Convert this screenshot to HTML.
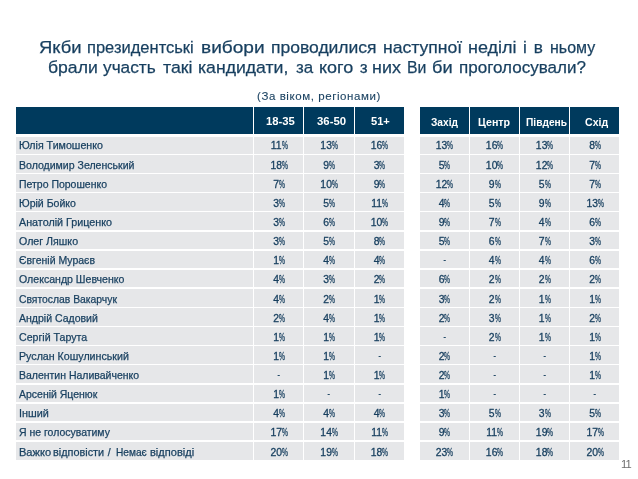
<!DOCTYPE html>
<html><head><meta charset="utf-8"><style>
html,body{margin:0;padding:0;}
body{width:638px;height:479px;background:#fff;position:relative;overflow:hidden;font-family:"Liberation Sans",sans-serif;}
div,span{position:absolute;white-space:nowrap;transform-origin:0 0;}
.t{color:#173f5f;-webkit-text-stroke:0.25px #173f5f;font-size:17.2px;line-height:20px;}
.s{color:#173f5f;-webkit-text-stroke:0.1px #173f5f;font-size:11.2px;line-height:13px;}
.h{background:#003a5d;top:106.9px;height:26.80px;}
.ht{color:#fff;font-weight:bold;font-size:11px;line-height:14px;}
.c{background:#e6e7e9;height:17.65px;}
.n{color:#173f5f;font-size:10.4px;line-height:14px;-webkit-text-stroke:0.25px #173f5f;}
.v{color:#173f5f;font-size:10.4px;line-height:14px;width:60px;text-align:center;-webkit-text-stroke:0.3px #173f5f;transform:scaleY(1.06);transform-origin:50% 76%;}
.v i{position:static;display:inline-block;font-style:normal;transform:scaleX(0.64);transform-origin:0 50%;width:5.92px;text-align:left;}
.v b{position:relative;font-weight:normal;display:inline-block;transform:scaleX(0.7);transform-origin:50% 50%;top:-0.8px;}
.p{color:#6e6e6e;font-size:11.2px;line-height:14px;letter-spacing:-1px;}
</style></head><body>
<div class="h" style="left:16px;width:237.00px"></div>
<div class="h" style="left:254px;width:49.00px"></div>
<div class="h" style="left:304px;width:50.00px"></div>
<div class="h" style="left:355px;width:48.60px"></div>
<div class="h" style="left:419.8px;width:49.20px"></div>
<div class="h" style="left:470px;width:49.00px"></div>
<div class="h" style="left:520px;width:49.00px"></div>
<div class="h" style="left:570px;width:48.80px"></div>
<div class="c" style="left:16px;top:135.90px;width:237.00px"></div>
<div class="c" style="left:254px;top:135.90px;width:49.00px"></div>
<div class="c" style="left:304px;top:135.90px;width:50.00px"></div>
<div class="c" style="left:355px;top:135.90px;width:48.60px"></div>
<div class="c" style="left:419.8px;top:135.90px;width:49.20px"></div>
<div class="c" style="left:470px;top:135.90px;width:49.00px"></div>
<div class="c" style="left:520px;top:135.90px;width:49.00px"></div>
<div class="c" style="left:570px;top:135.90px;width:48.80px"></div>
<div class="c" style="left:16px;top:155.03px;width:237.00px"></div>
<div class="c" style="left:254px;top:155.03px;width:49.00px"></div>
<div class="c" style="left:304px;top:155.03px;width:50.00px"></div>
<div class="c" style="left:355px;top:155.03px;width:48.60px"></div>
<div class="c" style="left:419.8px;top:155.03px;width:49.20px"></div>
<div class="c" style="left:470px;top:155.03px;width:49.00px"></div>
<div class="c" style="left:520px;top:155.03px;width:49.00px"></div>
<div class="c" style="left:570px;top:155.03px;width:48.80px"></div>
<div class="c" style="left:16px;top:174.15px;width:237.00px"></div>
<div class="c" style="left:254px;top:174.15px;width:49.00px"></div>
<div class="c" style="left:304px;top:174.15px;width:50.00px"></div>
<div class="c" style="left:355px;top:174.15px;width:48.60px"></div>
<div class="c" style="left:419.8px;top:174.15px;width:49.20px"></div>
<div class="c" style="left:470px;top:174.15px;width:49.00px"></div>
<div class="c" style="left:520px;top:174.15px;width:49.00px"></div>
<div class="c" style="left:570px;top:174.15px;width:48.80px"></div>
<div class="c" style="left:16px;top:193.28px;width:237.00px"></div>
<div class="c" style="left:254px;top:193.28px;width:49.00px"></div>
<div class="c" style="left:304px;top:193.28px;width:50.00px"></div>
<div class="c" style="left:355px;top:193.28px;width:48.60px"></div>
<div class="c" style="left:419.8px;top:193.28px;width:49.20px"></div>
<div class="c" style="left:470px;top:193.28px;width:49.00px"></div>
<div class="c" style="left:520px;top:193.28px;width:49.00px"></div>
<div class="c" style="left:570px;top:193.28px;width:48.80px"></div>
<div class="c" style="left:16px;top:212.40px;width:237.00px"></div>
<div class="c" style="left:254px;top:212.40px;width:49.00px"></div>
<div class="c" style="left:304px;top:212.40px;width:50.00px"></div>
<div class="c" style="left:355px;top:212.40px;width:48.60px"></div>
<div class="c" style="left:419.8px;top:212.40px;width:49.20px"></div>
<div class="c" style="left:470px;top:212.40px;width:49.00px"></div>
<div class="c" style="left:520px;top:212.40px;width:49.00px"></div>
<div class="c" style="left:570px;top:212.40px;width:48.80px"></div>
<div class="c" style="left:16px;top:231.53px;width:237.00px"></div>
<div class="c" style="left:254px;top:231.53px;width:49.00px"></div>
<div class="c" style="left:304px;top:231.53px;width:50.00px"></div>
<div class="c" style="left:355px;top:231.53px;width:48.60px"></div>
<div class="c" style="left:419.8px;top:231.53px;width:49.20px"></div>
<div class="c" style="left:470px;top:231.53px;width:49.00px"></div>
<div class="c" style="left:520px;top:231.53px;width:49.00px"></div>
<div class="c" style="left:570px;top:231.53px;width:48.80px"></div>
<div class="c" style="left:16px;top:250.65px;width:237.00px"></div>
<div class="c" style="left:254px;top:250.65px;width:49.00px"></div>
<div class="c" style="left:304px;top:250.65px;width:50.00px"></div>
<div class="c" style="left:355px;top:250.65px;width:48.60px"></div>
<div class="c" style="left:419.8px;top:250.65px;width:49.20px"></div>
<div class="c" style="left:470px;top:250.65px;width:49.00px"></div>
<div class="c" style="left:520px;top:250.65px;width:49.00px"></div>
<div class="c" style="left:570px;top:250.65px;width:48.80px"></div>
<div class="c" style="left:16px;top:269.77px;width:237.00px"></div>
<div class="c" style="left:254px;top:269.77px;width:49.00px"></div>
<div class="c" style="left:304px;top:269.77px;width:50.00px"></div>
<div class="c" style="left:355px;top:269.77px;width:48.60px"></div>
<div class="c" style="left:419.8px;top:269.77px;width:49.20px"></div>
<div class="c" style="left:470px;top:269.77px;width:49.00px"></div>
<div class="c" style="left:520px;top:269.77px;width:49.00px"></div>
<div class="c" style="left:570px;top:269.77px;width:48.80px"></div>
<div class="c" style="left:16px;top:288.90px;width:237.00px"></div>
<div class="c" style="left:254px;top:288.90px;width:49.00px"></div>
<div class="c" style="left:304px;top:288.90px;width:50.00px"></div>
<div class="c" style="left:355px;top:288.90px;width:48.60px"></div>
<div class="c" style="left:419.8px;top:288.90px;width:49.20px"></div>
<div class="c" style="left:470px;top:288.90px;width:49.00px"></div>
<div class="c" style="left:520px;top:288.90px;width:49.00px"></div>
<div class="c" style="left:570px;top:288.90px;width:48.80px"></div>
<div class="c" style="left:16px;top:308.02px;width:237.00px"></div>
<div class="c" style="left:254px;top:308.02px;width:49.00px"></div>
<div class="c" style="left:304px;top:308.02px;width:50.00px"></div>
<div class="c" style="left:355px;top:308.02px;width:48.60px"></div>
<div class="c" style="left:419.8px;top:308.02px;width:49.20px"></div>
<div class="c" style="left:470px;top:308.02px;width:49.00px"></div>
<div class="c" style="left:520px;top:308.02px;width:49.00px"></div>
<div class="c" style="left:570px;top:308.02px;width:48.80px"></div>
<div class="c" style="left:16px;top:327.15px;width:237.00px"></div>
<div class="c" style="left:254px;top:327.15px;width:49.00px"></div>
<div class="c" style="left:304px;top:327.15px;width:50.00px"></div>
<div class="c" style="left:355px;top:327.15px;width:48.60px"></div>
<div class="c" style="left:419.8px;top:327.15px;width:49.20px"></div>
<div class="c" style="left:470px;top:327.15px;width:49.00px"></div>
<div class="c" style="left:520px;top:327.15px;width:49.00px"></div>
<div class="c" style="left:570px;top:327.15px;width:48.80px"></div>
<div class="c" style="left:16px;top:346.27px;width:237.00px"></div>
<div class="c" style="left:254px;top:346.27px;width:49.00px"></div>
<div class="c" style="left:304px;top:346.27px;width:50.00px"></div>
<div class="c" style="left:355px;top:346.27px;width:48.60px"></div>
<div class="c" style="left:419.8px;top:346.27px;width:49.20px"></div>
<div class="c" style="left:470px;top:346.27px;width:49.00px"></div>
<div class="c" style="left:520px;top:346.27px;width:49.00px"></div>
<div class="c" style="left:570px;top:346.27px;width:48.80px"></div>
<div class="c" style="left:16px;top:365.40px;width:237.00px"></div>
<div class="c" style="left:254px;top:365.40px;width:49.00px"></div>
<div class="c" style="left:304px;top:365.40px;width:50.00px"></div>
<div class="c" style="left:355px;top:365.40px;width:48.60px"></div>
<div class="c" style="left:419.8px;top:365.40px;width:49.20px"></div>
<div class="c" style="left:470px;top:365.40px;width:49.00px"></div>
<div class="c" style="left:520px;top:365.40px;width:49.00px"></div>
<div class="c" style="left:570px;top:365.40px;width:48.80px"></div>
<div class="c" style="left:16px;top:384.52px;width:237.00px"></div>
<div class="c" style="left:254px;top:384.52px;width:49.00px"></div>
<div class="c" style="left:304px;top:384.52px;width:50.00px"></div>
<div class="c" style="left:355px;top:384.52px;width:48.60px"></div>
<div class="c" style="left:419.8px;top:384.52px;width:49.20px"></div>
<div class="c" style="left:470px;top:384.52px;width:49.00px"></div>
<div class="c" style="left:520px;top:384.52px;width:49.00px"></div>
<div class="c" style="left:570px;top:384.52px;width:48.80px"></div>
<div class="c" style="left:16px;top:403.65px;width:237.00px"></div>
<div class="c" style="left:254px;top:403.65px;width:49.00px"></div>
<div class="c" style="left:304px;top:403.65px;width:50.00px"></div>
<div class="c" style="left:355px;top:403.65px;width:48.60px"></div>
<div class="c" style="left:419.8px;top:403.65px;width:49.20px"></div>
<div class="c" style="left:470px;top:403.65px;width:49.00px"></div>
<div class="c" style="left:520px;top:403.65px;width:49.00px"></div>
<div class="c" style="left:570px;top:403.65px;width:48.80px"></div>
<div class="c" style="left:16px;top:422.77px;width:237.00px"></div>
<div class="c" style="left:254px;top:422.77px;width:49.00px"></div>
<div class="c" style="left:304px;top:422.77px;width:50.00px"></div>
<div class="c" style="left:355px;top:422.77px;width:48.60px"></div>
<div class="c" style="left:419.8px;top:422.77px;width:49.20px"></div>
<div class="c" style="left:470px;top:422.77px;width:49.00px"></div>
<div class="c" style="left:520px;top:422.77px;width:49.00px"></div>
<div class="c" style="left:570px;top:422.77px;width:48.80px"></div>
<div class="c" style="left:16px;top:441.90px;width:237.00px"></div>
<div class="c" style="left:254px;top:441.90px;width:49.00px"></div>
<div class="c" style="left:304px;top:441.90px;width:50.00px"></div>
<div class="c" style="left:355px;top:441.90px;width:48.60px"></div>
<div class="c" style="left:419.8px;top:441.90px;width:49.20px"></div>
<div class="c" style="left:470px;top:441.90px;width:49.00px"></div>
<div class="c" style="left:520px;top:441.90px;width:49.00px"></div>
<div class="c" style="left:570px;top:441.90px;width:48.80px"></div>
<div style="left:0;top:133.7px;width:638px;height:3.20px;background:#fff"></div>
<div id="tx" style="left:0;top:0;width:638px;height:479px;will-change:transform">
<div class="v" style="left:249.20px;top:139.15px">11<i>%</i></div>
<div class="v" style="left:299.10px;top:139.15px">13<i>%</i></div>
<div class="v" style="left:349.50px;top:139.15px">16<i>%</i></div>
<div class="v" style="left:414.50px;top:139.15px">13<i>%</i></div>
<div class="v" style="left:464.60px;top:139.15px">16<i>%</i></div>
<div class="v" style="left:514.60px;top:139.15px">13<i>%</i></div>
<div class="v" style="left:565.20px;top:139.15px">8<i>%</i></div>
<div class="v" style="left:249.20px;top:158.76px">18<i>%</i></div>
<div class="v" style="left:299.10px;top:158.76px">9<i>%</i></div>
<div class="v" style="left:349.50px;top:158.76px">3<i>%</i></div>
<div class="v" style="left:414.50px;top:158.76px">5<i>%</i></div>
<div class="v" style="left:464.60px;top:158.76px">10<i>%</i></div>
<div class="v" style="left:514.60px;top:158.76px">12<i>%</i></div>
<div class="v" style="left:565.20px;top:158.76px">7<i>%</i></div>
<div class="v" style="left:249.20px;top:177.87px">7<i>%</i></div>
<div class="v" style="left:299.10px;top:177.87px">10<i>%</i></div>
<div class="v" style="left:349.50px;top:177.87px">9<i>%</i></div>
<div class="v" style="left:414.50px;top:177.87px">12<i>%</i></div>
<div class="v" style="left:464.60px;top:177.87px">9<i>%</i></div>
<div class="v" style="left:514.60px;top:177.87px">5<i>%</i></div>
<div class="v" style="left:565.20px;top:177.87px">7<i>%</i></div>
<div class="v" style="left:249.20px;top:196.98px">3<i>%</i></div>
<div class="v" style="left:299.10px;top:196.98px">5<i>%</i></div>
<div class="v" style="left:349.50px;top:196.98px">11<i>%</i></div>
<div class="v" style="left:414.50px;top:196.98px">4<i>%</i></div>
<div class="v" style="left:464.60px;top:196.98px">5<i>%</i></div>
<div class="v" style="left:514.60px;top:196.98px">9<i>%</i></div>
<div class="v" style="left:565.20px;top:196.98px">13<i>%</i></div>
<div class="v" style="left:249.20px;top:216.09px">3<i>%</i></div>
<div class="v" style="left:299.10px;top:216.09px">6<i>%</i></div>
<div class="v" style="left:349.50px;top:216.09px">10<i>%</i></div>
<div class="v" style="left:414.50px;top:216.09px">9<i>%</i></div>
<div class="v" style="left:464.60px;top:216.09px">7<i>%</i></div>
<div class="v" style="left:514.60px;top:216.09px">4<i>%</i></div>
<div class="v" style="left:565.20px;top:216.09px">6<i>%</i></div>
<div class="v" style="left:249.20px;top:235.20px">3<i>%</i></div>
<div class="v" style="left:299.10px;top:235.20px">5<i>%</i></div>
<div class="v" style="left:349.50px;top:235.20px">8<i>%</i></div>
<div class="v" style="left:414.50px;top:235.20px">5<i>%</i></div>
<div class="v" style="left:464.60px;top:235.20px">6<i>%</i></div>
<div class="v" style="left:514.60px;top:235.20px">7<i>%</i></div>
<div class="v" style="left:565.20px;top:235.20px">3<i>%</i></div>
<div class="v" style="left:249.20px;top:254.31px">1<i>%</i></div>
<div class="v" style="left:299.10px;top:254.31px">4<i>%</i></div>
<div class="v" style="left:349.50px;top:254.31px">4<i>%</i></div>
<div class="v" style="left:414.50px;top:254.31px"><b>-</b></div>
<div class="v" style="left:464.60px;top:254.31px">4<i>%</i></div>
<div class="v" style="left:514.60px;top:254.31px">4<i>%</i></div>
<div class="v" style="left:565.20px;top:254.31px">6<i>%</i></div>
<div class="v" style="left:249.20px;top:273.42px">4<i>%</i></div>
<div class="v" style="left:299.10px;top:273.42px">3<i>%</i></div>
<div class="v" style="left:349.50px;top:273.42px">2<i>%</i></div>
<div class="v" style="left:414.50px;top:273.42px">6<i>%</i></div>
<div class="v" style="left:464.60px;top:273.42px">2<i>%</i></div>
<div class="v" style="left:514.60px;top:273.42px">2<i>%</i></div>
<div class="v" style="left:565.20px;top:273.42px">2<i>%</i></div>
<div class="v" style="left:249.20px;top:292.53px">4<i>%</i></div>
<div class="v" style="left:299.10px;top:292.53px">2<i>%</i></div>
<div class="v" style="left:349.50px;top:292.53px">1<i>%</i></div>
<div class="v" style="left:414.50px;top:292.53px">3<i>%</i></div>
<div class="v" style="left:464.60px;top:292.53px">2<i>%</i></div>
<div class="v" style="left:514.60px;top:292.53px">1<i>%</i></div>
<div class="v" style="left:565.20px;top:292.53px">1<i>%</i></div>
<div class="v" style="left:249.20px;top:311.64px">2<i>%</i></div>
<div class="v" style="left:299.10px;top:311.64px">4<i>%</i></div>
<div class="v" style="left:349.50px;top:311.64px">1<i>%</i></div>
<div class="v" style="left:414.50px;top:311.64px">2<i>%</i></div>
<div class="v" style="left:464.60px;top:311.64px">3<i>%</i></div>
<div class="v" style="left:514.60px;top:311.64px">1<i>%</i></div>
<div class="v" style="left:565.20px;top:311.64px">2<i>%</i></div>
<div class="v" style="left:249.20px;top:330.75px">1<i>%</i></div>
<div class="v" style="left:299.10px;top:330.75px">1<i>%</i></div>
<div class="v" style="left:349.50px;top:330.75px">1<i>%</i></div>
<div class="v" style="left:414.50px;top:330.75px"><b>-</b></div>
<div class="v" style="left:464.60px;top:330.75px">2<i>%</i></div>
<div class="v" style="left:514.60px;top:330.75px">1<i>%</i></div>
<div class="v" style="left:565.20px;top:330.75px">1<i>%</i></div>
<div class="v" style="left:249.20px;top:349.86px">1<i>%</i></div>
<div class="v" style="left:299.10px;top:349.86px">1<i>%</i></div>
<div class="v" style="left:349.50px;top:349.86px"><b>-</b></div>
<div class="v" style="left:414.50px;top:349.86px">2<i>%</i></div>
<div class="v" style="left:464.60px;top:349.86px"><b>-</b></div>
<div class="v" style="left:514.60px;top:349.86px"><b>-</b></div>
<div class="v" style="left:565.20px;top:349.86px">1<i>%</i></div>
<div class="v" style="left:249.20px;top:368.97px"><b>-</b></div>
<div class="v" style="left:299.10px;top:368.97px">1<i>%</i></div>
<div class="v" style="left:349.50px;top:368.97px">1<i>%</i></div>
<div class="v" style="left:414.50px;top:368.97px">2<i>%</i></div>
<div class="v" style="left:464.60px;top:368.97px"><b>-</b></div>
<div class="v" style="left:514.60px;top:368.97px"><b>-</b></div>
<div class="v" style="left:565.20px;top:368.97px">1<i>%</i></div>
<div class="v" style="left:249.20px;top:388.08px">1<i>%</i></div>
<div class="v" style="left:299.10px;top:388.08px"><b>-</b></div>
<div class="v" style="left:349.50px;top:388.08px"><b>-</b></div>
<div class="v" style="left:414.50px;top:388.08px">1<i>%</i></div>
<div class="v" style="left:464.60px;top:388.08px"><b>-</b></div>
<div class="v" style="left:514.60px;top:388.08px"><b>-</b></div>
<div class="v" style="left:565.20px;top:388.08px"><b>-</b></div>
<div class="v" style="left:249.20px;top:407.19px">4<i>%</i></div>
<div class="v" style="left:299.10px;top:407.19px">4<i>%</i></div>
<div class="v" style="left:349.50px;top:407.19px">4<i>%</i></div>
<div class="v" style="left:414.50px;top:407.19px">3<i>%</i></div>
<div class="v" style="left:464.60px;top:407.19px">5<i>%</i></div>
<div class="v" style="left:514.60px;top:407.19px">3<i>%</i></div>
<div class="v" style="left:565.20px;top:407.19px">5<i>%</i></div>
<div class="v" style="left:249.20px;top:426.30px">17<i>%</i></div>
<div class="v" style="left:299.10px;top:426.30px">14<i>%</i></div>
<div class="v" style="left:349.50px;top:426.30px">11<i>%</i></div>
<div class="v" style="left:414.50px;top:426.30px">9<i>%</i></div>
<div class="v" style="left:464.60px;top:426.30px">11<i>%</i></div>
<div class="v" style="left:514.60px;top:426.30px">19<i>%</i></div>
<div class="v" style="left:565.20px;top:426.30px">17<i>%</i></div>
<div class="v" style="left:249.20px;top:445.81px">20<i>%</i></div>
<div class="v" style="left:299.10px;top:445.81px">19<i>%</i></div>
<div class="v" style="left:349.50px;top:445.81px">18<i>%</i></div>
<div class="v" style="left:414.50px;top:445.81px">23<i>%</i></div>
<div class="v" style="left:464.60px;top:445.81px">16<i>%</i></div>
<div class="v" style="left:514.60px;top:445.81px">18<i>%</i></div>
<div class="v" style="left:565.20px;top:445.81px">20<i>%</i></div>
<div class="t" style="left:38.64px;top:36.70px;transform:scaleX(1.0719)">Якби</div>
<div class="t" style="left:87.34px;top:36.70px;transform:scaleX(0.9603)">президентські</div>
<div class="t" style="left:200.88px;top:36.70px;transform:scaleX(1.1101)">вибори</div>
<div class="t" style="left:271.18px;top:36.70px;transform:scaleX(1.0181)">проводилися</div>
<div class="t" style="left:382.77px;top:36.70px;transform:scaleX(1.0234)">наступної</div>
<div class="t" style="left:468.25px;top:36.70px;transform:scaleX(1.0480)">неділі</div>
<div class="t" style="left:522.90px;top:36.70px;transform:scaleX(1.0000)">і</div>
<div class="t" style="left:533.70px;top:36.70px;transform:scaleX(1.0000)">в</div>
<div class="t" style="left:549.78px;top:36.70px;transform:scaleX(0.9297)">ньому</div>
<div class="t" style="left:48.48px;top:56.70px;transform:scaleX(1.0232)">брали</div>
<div class="t" style="left:103.20px;top:56.70px;transform:scaleX(1.0038)">участь</div>
<div class="t" style="left:162.59px;top:56.70px;transform:scaleX(1.0339)">такі</div>
<div class="t" style="left:198.37px;top:56.70px;transform:scaleX(1.0266)">кандидати,</div>
<div class="t" style="left:296.21px;top:56.70px;transform:scaleX(0.9833)">за</div>
<div class="t" style="left:319.05px;top:56.70px;transform:scaleX(1.0458)">кого</div>
<div class="t" style="left:359.80px;top:56.70px;transform:scaleX(1.0000)">з</div>
<div class="t" style="left:372.05px;top:56.70px;transform:scaleX(1.0413)">них</div>
<div class="t" style="left:406.51px;top:56.70px;transform:scaleX(0.9207)">Ви</div>
<div class="t" style="left:432.34px;top:56.70px;transform:scaleX(1.0604)">би</div>
<div class="t" style="left:459.01px;top:56.70px;transform:scaleX(0.9899)">проголосували?</div>
<div class="s" style="letter-spacing:0.55px;left:256.88px;top:89.60px;transform:scaleX(1.0297)">(За віком, регіонами)</div>
<div class="ht" style="font-size:11.6px;left:266.32px;top:114.20px;transform:scaleX(0.9750)">18-35</div>
<div class="ht" style="font-size:11.6px;left:316.50px;top:114.20px;transform:scaleX(0.9822)">36-50</div>
<div class="ht" style="font-size:11.6px;left:371.31px;top:114.20px;transform:scaleX(0.9578)">51+</div>
<div class="ht" style="left:431.22px;top:115.10px;transform:scaleX(0.9242)">Захід</div>
<div class="ht" style="left:478.32px;top:115.10px;transform:scaleX(0.9712)">Центр</div>
<div class="ht" style="left:525.95px;top:115.10px;transform:scaleX(0.9266)">Південь</div>
<div class="ht" style="left:584.82px;top:115.10px;transform:scaleX(0.9610)">Схід</div>
<div class="n" style="left:18.78px;top:139.15px;transform:scaleX(1.0258)">Юлія Тимошенко</div>
<div class="n" style="left:18.79px;top:158.76px;transform:scaleX(1.0148)">Володимир Зеленський</div>
<div class="n" style="left:18.79px;top:177.87px;transform:scaleX(1.0093)">Петро Порошенко</div>
<div class="n" style="left:18.79px;top:196.98px;transform:scaleX(1.0148)">Юрій Бойко</div>
<div class="n" style="left:19.00px;top:216.09px;transform:scaleX(1.0347)">Анатолій Гриценко</div>
<div class="n" style="left:19.19px;top:235.20px;transform:scaleX(1.0233)">Олег Ляшко</div>
<div class="n" style="left:19.10px;top:254.31px;transform:scaleX(1.0089)">Євгеній Мураєв</div>
<div class="n" style="left:19.19px;top:273.42px;transform:scaleX(1.0170)">Олександр Шевченко</div>
<div class="n" style="left:19.10px;top:292.53px;transform:scaleX(0.9959)">Святослав Вакарчук</div>
<div class="n" style="left:19.00px;top:311.64px;transform:scaleX(1.0124)">Андрій Садовий</div>
<div class="n" style="left:19.09px;top:330.75px;transform:scaleX(1.0216)">Сергій Тарута</div>
<div class="n" style="left:18.78px;top:349.86px;transform:scaleX(1.0250)">Руслан Кошулинський</div>
<div class="n" style="left:18.79px;top:368.97px;transform:scaleX(1.0093)">Валентин Наливайченко</div>
<div class="n" style="left:19.00px;top:388.08px;transform:scaleX(1.0085)">Арсеній Яценюк</div>
<div class="n" style="left:18.66px;top:407.19px;transform:scaleX(1.0450)">Інший</div>
<div class="n" style="left:19.20px;top:426.30px;transform:scaleX(1.0077)">Я не голосуватиму</div>
<div class="n" style="left:18.65px;top:445.81px;transform:scaleX(1.0641)">Важко</div>
<div class="n" style="left:53.47px;top:445.81px;transform:scaleX(1.0459)">відповісти</div>
<div class="n" style="left:107.80px;top:445.81px;transform:scaleX(1.0000)">/</div>
<div class="n" style="left:115.92px;top:445.81px;transform:scaleX(0.9761)">Немає</div>
<div class="n" style="left:150.26px;top:445.81px;transform:scaleX(1.0641)">відповіді</div>
<div class="p" style="left:621px;top:457px">11</div>
</div>
</body></html>
